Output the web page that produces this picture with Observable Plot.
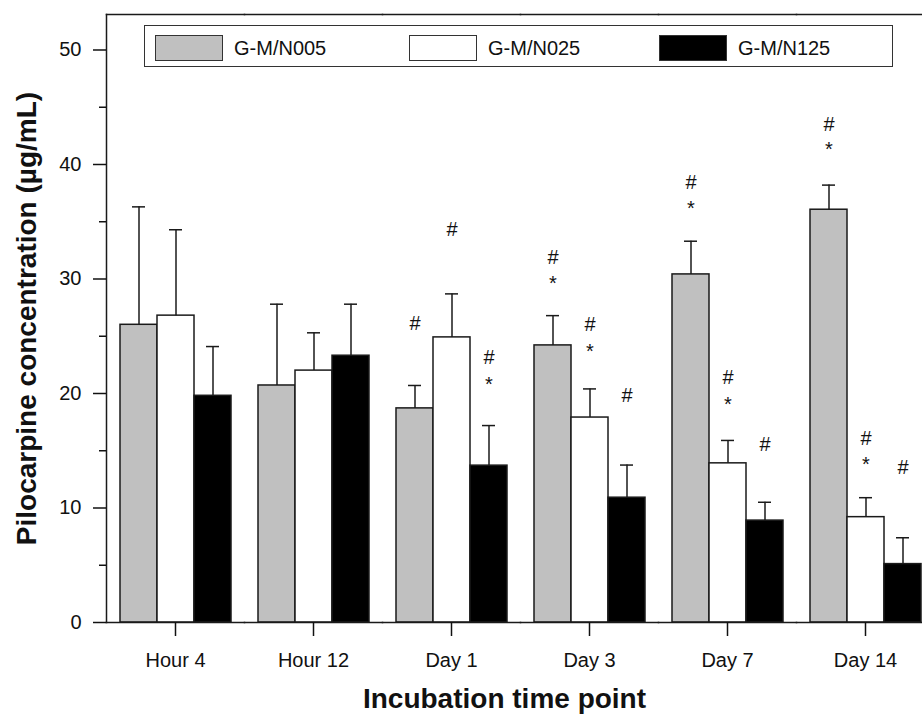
<!DOCTYPE html>
<html>
<head>
<meta charset="utf-8">
<script src="https://cdn.jsdelivr.net/npm/d3@7"></script>
<script src="https://cdn.jsdelivr.net/npm/@observablehq/plot@0.6"></script>
<style>
  html, body { margin: 0; padding: 0; overflow: hidden; background: #fff; }
  #wrap { position: relative; width: 922px; height: 717px; overflow: hidden;
          font-family: "Liberation Sans", Arial, sans-serif; color: #111; }
  #wrap svg { max-width: none !important; display: block; }
  g[aria-label="fx-axis label"] text,
  g[aria-label="y-axis label"] text { font-weight: bold; font-size: 28px; }
  g[aria-label="fx-axis label"] { translate: -16px 0; }
  #legend { position: absolute; left: 144px; top: 25px; width: 749px; height: 42px;
            box-sizing: border-box; border: 1.5px solid #333; background: #fff; }
  .item { position: absolute; top: 9px; height: 26px; display: flex; align-items: center; }
  .item:nth-child(1) { left: 10px; }
  .item:nth-child(2) { left: 264px; }
  .item:nth-child(3) { left: 514px; }
  .sw { width: 68px; height: 26px; box-sizing: border-box; border: 1.5px solid #333; margin-right: 11px; }
  .lab { font-size: 20px; line-height: 26px; }
</style>
</head>
<body>
<div id="wrap"><div id="legend"></div></div>
<script>
// ---- data ----
const times = ["Hour 4", "Hour 12", "Day 1", "Day 3", "Day 7", "Day 14"];
const series = ["G-M/N005", "G-M/N025", "G-M/N125"];
const seriesColors = ["#c0c0c0", "#ffffff", "#000000"];

const n005 = [26.0, 20.7, 18.7, 24.2, 30.4, 36.05];
const n025 = [26.8, 22.0, 24.9, 17.9, 13.9, 9.2];
const n125 = [19.8, 23.3, 13.7, 10.9, 8.9, 5.1];

const n005Sd = [10.3, 7.1, 2.0, 2.6, 2.9, 2.15];
const n025Sd = [7.5, 3.3, 3.8, 2.5, 2.0, 1.7];
const n125Sd = [4.3, 4.5, 3.5, 2.85, 1.6, 2.3];

const yTicks = [0, 10, 20, 30, 40, 50];
const yMinorTicks = [5, 15, 25, 35, 45];

// significance annotations
const annTime   = ["Day 1", "Day 1", "Day 1", "Day 1",
                   "Day 3", "Day 3", "Day 3", "Day 3", "Day 3",
                   "Day 7", "Day 7", "Day 7", "Day 7", "Day 7",
                   "Day 14", "Day 14", "Day 14", "Day 14", "Day 14"];
const annSeries = ["G-M/N005", "G-M/N025", "G-M/N125", "G-M/N125",
                   "G-M/N005", "G-M/N005", "G-M/N025", "G-M/N025", "G-M/N125",
                   "G-M/N005", "G-M/N005", "G-M/N025", "G-M/N025", "G-M/N125",
                   "G-M/N005", "G-M/N005", "G-M/N025", "G-M/N025", "G-M/N125"];
const annMark   = ["#", "#", "#", "*",
                   "#", "*", "#", "*", "#",
                   "#", "*", "#", "*", "#",
                   "#", "*", "#", "*", "#"];
const annY      = [26.1, 34.3, 23.1, 21.2,
                   31.9, 30.0, 26.0, 24.1, 19.8,
                   38.4, 36.6, 21.4, 19.5, 15.5,
                   43.5, 41.7, 16.1, 14.2, 13.5];

// ---- tables ----
const values = [n005, n025, n125];
const sds = [n005Sd, n025Sd, n125Sd];
const rows = times.flatMap((t, i) => series.map((s, j) => ({
  time: t, series: s, value: values[j][i], top: values[j][i] + sds[j][i]
})));
const ann = annTime.map((t, k) => ({ time: t, series: annSeries[k], mark: annMark[k], y: annY[k] }));

const font = '"Liberation Sans", Arial, sans-serif';
const ink = "#1a1a1a";

const chart = Plot.plot({
  width: 936,
  height: 717,
  marginLeft: 104,
  marginRight: 0,
  marginTop: 14,
  marginBottom: 95,
  style: { fontFamily: font, fontSize: "20px", background: "white", color: "#111" },
  fx: { domain: times, padding: 0 },
  x: { domain: series, paddingInner: 0, paddingOuter: 0.338, axis: null },
  y: { domain: [0, 53.1] },
  color: { domain: series, range: seriesColors },
  marks: [
    Plot.barY(rows, { fx: "time", x: "series", y: "value", fill: "series", stroke: ink, strokeWidth: 1.5 }),
    Plot.ruleX(rows, { fx: "time", x: "series", y1: "value", y2: "top", stroke: ink, strokeWidth: 1.5 }),
    Plot.tickY(rows, { fx: "time", x: "series", y: "top", insetLeft: 12, insetRight: 12, stroke: ink, strokeWidth: 1.5 }),
    Plot.text(ann, { filter: d => d.mark === "#", fx: "time", x: "series", y: "y", text: "mark", fontSize: 20, fill: "#111" }),
    Plot.text(ann, { filter: d => d.mark === "*", fx: "time", x: "series", y: "y", text: "mark", fontSize: 20, dy: 5, fill: "#111" }),
    Plot.frame({ anchor: "bottom", stroke: ink, strokeWidth: 1.5 }),
    Plot.frame({ anchor: "top", stroke: ink, strokeWidth: 1.5 }),
    Plot.frame({ anchor: "left", facetAnchor: "left", stroke: ink, strokeWidth: 1.5 }),
    Plot.axisY({ ticks: yTicks, tickSize: 13, tickPadding: 12, strokeWidth: 1.5,
                 label: "Pilocarpine concentration (µg/mL)", labelArrow: "none",
                 labelAnchor: "center", labelOffset: 90 }),
    Plot.axisY({ ticks: yMinorTicks, tickSize: 7, strokeWidth: 1.5, tickFormat: () => "", label: null }),
    Plot.axisFx({ anchor: "bottom", tickSize: 14, tickPadding: 16, strokeWidth: 1.5,
                  label: "Incubation time point", labelArrow: "none",
                  labelAnchor: "center", labelOffset: 85 })
  ]
});
document.getElementById("wrap").prepend(chart);

// legend (inside plot area, as in the reference)
const legend = document.getElementById("legend");
series.forEach((s, j) => {
  const item = document.createElement("div");
  item.className = "item";
  const sw = document.createElement("div");
  sw.className = "sw";
  sw.style.background = seriesColors[j];
  const lab = document.createElement("span");
  lab.className = "lab";
  lab.textContent = s;
  item.append(sw, lab);
  legend.append(item);
});
</script>
</body>
</html>
